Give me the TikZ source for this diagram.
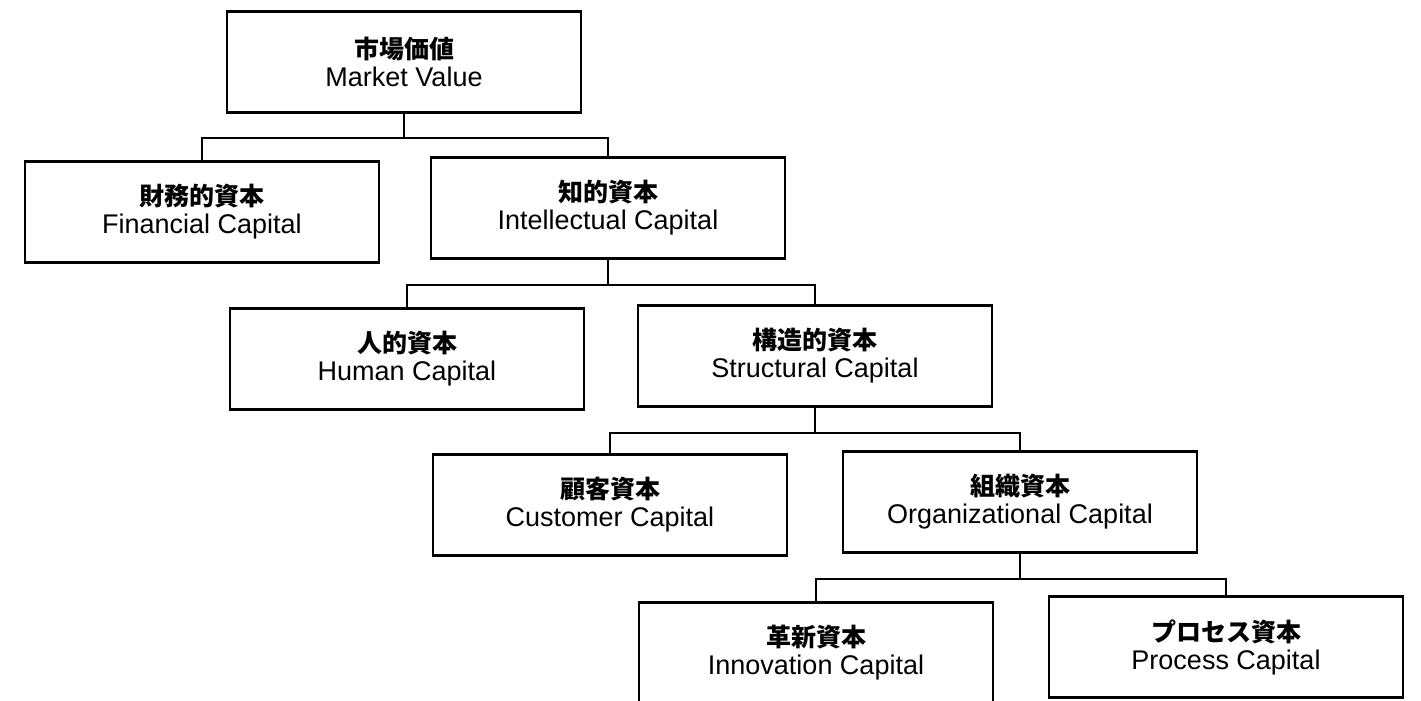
\documentclass[tikz,border=0pt]{standalone}
\usepackage{fontspec}
\setmainfont{Liberation Sans}
\newfontfamily\jpfont{Noto Sans CJK JP}
\newcommand{\jp}[1]{{\jpfont\bfseries\fontsize{25}{28}\selectfont #1}}

\begin{document}
\begin{tikzpicture}[x=1pt,y=1pt,
    capbox/.style={draw,line width=2.8pt,minimum width=354,minimum height=101,
      inner sep=0pt,align=center,font=\fontsize{27}{28}\selectfont},
    link/.style={line width=2.6pt}]

\useasboundingbox (0,0) rectangle (1421,-701);

\node[capbox] (mv) at (404,-62)  {\jp{市場価値}\\Market Value};
\node[capbox] (fc) at (202,-212) {\jp{財務的資本}\\Financial Capital};
\node[capbox] (ic) at (608,-208) {\jp{知的資本}\\Intellectual Capital};
\node[capbox] (hc) at (407,-359) {\jp{人的資本}\\Human Capital};
\node[capbox] (sc) at (815,-356) {\jp{構造的資本}\\Structural Capital};
\node[capbox] (cc) at (610,-505) {\jp{顧客資本}\\Customer Capital};
\node[capbox] (oc) at (1020,-502) {\jp{組織資本}\\Organizational Capital};
\node[capbox] (nc) at (816,-653) {\jp{革新資本}\\Innovation Capital};
\node[capbox] (pc) at (1226,-647) {\jp{プロセス資本}\\Process Capital};

% each parent drops to a bar that feeds its two children
\draw[link] (mv.south) -- ++(0,-24) coordinate (j1);
\draw[link] (fc.north) |- (j1) -| (ic.north);
\draw[link] (ic.south) -- ++(0,-25) coordinate (j2);
\draw[link] (hc.north) |- (j2) -| (sc.north);
\draw[link] (sc.south) -- ++(0,-25) coordinate (j3);
\draw[link] (cc.north) |- (j3) -| (oc.north);
\draw[link] (oc.south) -- ++(0,-25) coordinate (j4);
\draw[link] (nc.north) |- (j4) -| (pc.north);
\end{tikzpicture}
\end{document}
